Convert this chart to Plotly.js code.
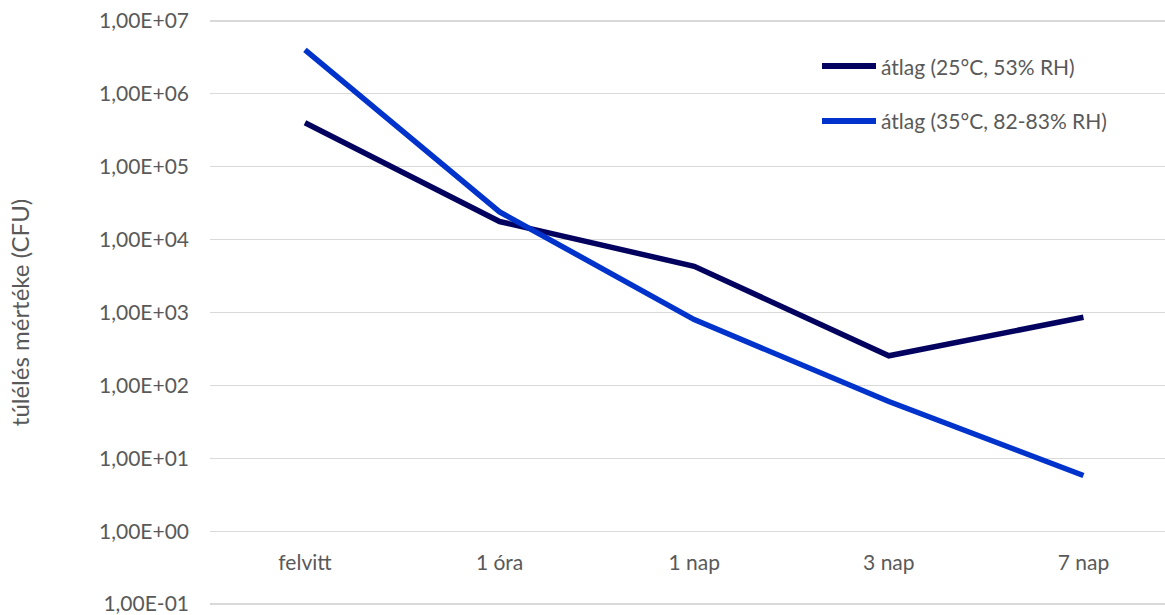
<!DOCTYPE html>
<html>
<head>
<meta charset="utf-8">
<script src="https://cdn.plot.ly/plotly-3.0.1.min.js"></script>
<style>html,body{margin:0;padding:0;background:#fff;}#chart{width:1165px;height:615px;}</style>
</head>
<body>
<div id="chart"></div>
<script>
const categories = ["felvitt", "1 óra", "1 nap", "3 nap", "7 nap"];
const series1Name = "átlag (25°C, 53% RH)";
const series1 = [400000, 17700, 4300, 255, 860];
const series2Name = "átlag (35°C, 82-83% RH)";
const series2 = [4000000, 24000, 800, 60, 5.8];
const yTickVals = [1e-1, 1e0, 1e1, 1e2, 1e3, 1e4, 1e5, 1e6, 1e7];
const yTickText = ["1,00E-01", "1,00E+00", "1,00E+01", "1,00E+02", "1,00E+03", "1,00E+04", "1,00E+05", "1,00E+06", "1,00E+07"];
const yTitle = "túlélés mértéke (CFU)";
const seriesNames = [series1Name, series2Name];
const seriesColors = ["#03035F", "#0033CC"];

const FONT = "Lato, 'Noto Sans', sans-serif";
const TXT = "#595959";
const W = 1165, H = 615;

const traces = [
  {x: categories, y: series1, name: series1Name, type: "scatter", mode: "lines",
   line: {color: seriesColors[0], width: 5.5}},
  {x: categories, y: series2, name: series2Name, type: "scatter", mode: "lines",
   line: {color: seriesColors[1], width: 5.5}}
];

// custom legend (Excel-style long line sample), placed in paper coordinates
const mL = 210, mR = 0, mT = 18, mB = 8;
const pw = W - mL - mR, ph = H - mT - mB;
const px2x = p => (p - mL) / pw;
const py2y = p => (H - mB - p) / ph;
const legendRows = [66, 121];
const shapes = [], annotations = [];
seriesNames.forEach((nm, i) => {
  shapes.push({type: "line", xref: "paper", yref: "paper",
    x0: px2x(822), x1: px2x(876), y0: py2y(legendRows[i]), y1: py2y(legendRows[i]),
    line: {color: seriesColors[i], width: 6}});
  annotations.push({xref: "paper", yref: "paper", x: px2x(879), y: py2y(legendRows[i]),
    xanchor: "left", yanchor: "middle", showarrow: false, text: nm,
    font: {family: FONT, size: 21, color: TXT}});
});

const layout = {
  width: W, height: H,
  margin: {l: mL, r: mR, t: mT, b: mB},
  paper_bgcolor: "#fff", plot_bgcolor: "#fff",
  font: {family: FONT, size: 21, color: TXT},
  showlegend: false,
  shapes: shapes,
  annotations: annotations,
  xaxis: {
    type: "category",
    range: [-0.488, 4.419],
    anchor: "free", position: py2y(532),
    showgrid: false, zeroline: false, showline: false, ticks: "",
    ticklabelstandoff: 16,
    tickfont: {family: FONT, size: 21, color: TXT}
  },
  yaxis: {
    type: "log",
    range: [-1.04, 7.04],
    tickvals: yTickVals, ticktext: yTickText,
    showgrid: true, gridcolor: "#D9D9D9", gridwidth: 1.3,
    zeroline: false, showline: false, ticks: "",
    ticklabelstandoff: 20,
    ticklabeloverflow: "allow",
    tickfont: {family: FONT, size: 21, color: TXT},
    title: {text: yTitle, font: {family: FONT, size: 24, color: TXT}, standoff: 62}
  }
};

Plotly.newPlot("chart", traces, layout, {displayModeBar: false, staticPlot: true});
</script>
</body>
</html>
